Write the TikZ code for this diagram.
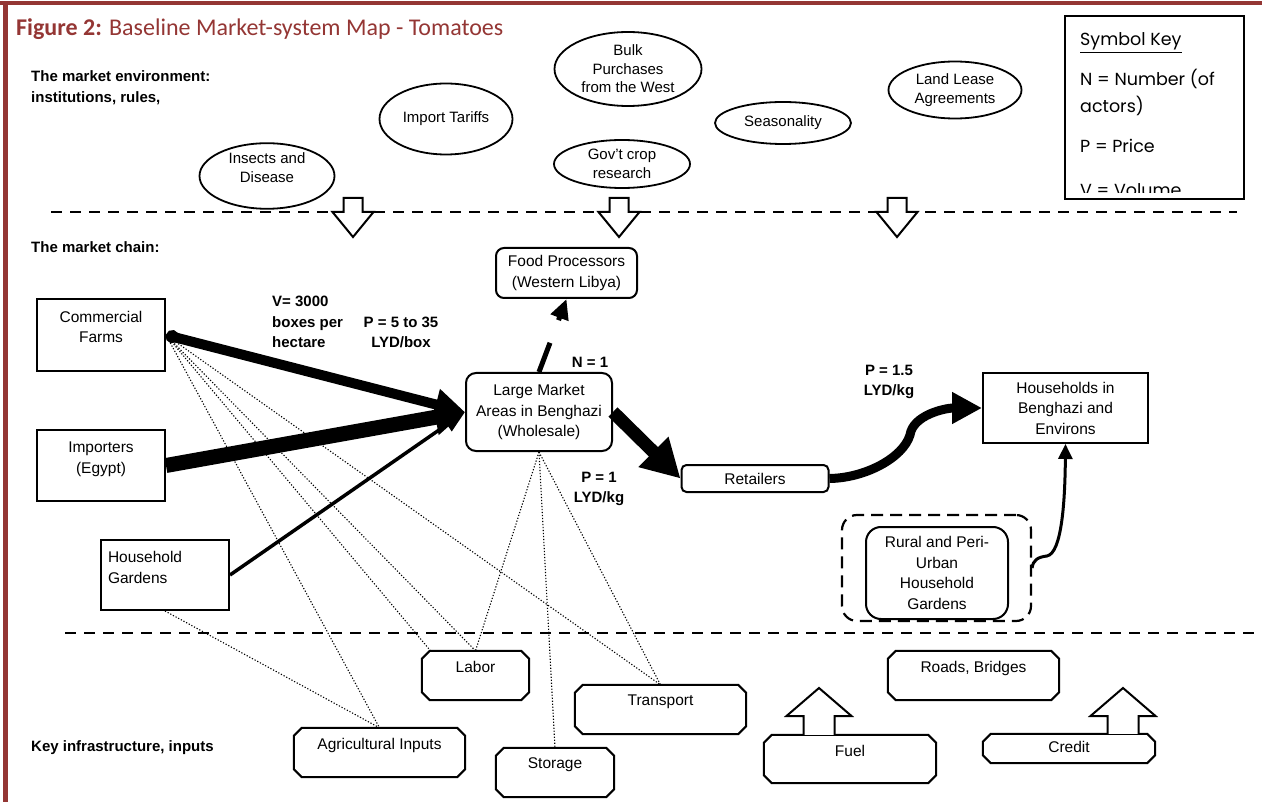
\documentclass[tikz,border=0pt]{standalone}
\usepackage{fontspec}
\setmainfont{Liberation Sans}
\newfontfamily\titlefont{Carlito}
\newfontfamily\keyfont{Poppins}
\usetikzlibrary{arrows.meta,shapes.geometric,calc,backgrounds}
\definecolor{figred}{HTML}{943634}

\tikzset{
  chainbox/.style={draw, line width=2pt, fill=white, inner sep=0pt, align=center,
    font=\fontsize{15.5}{20.5}\selectfont},
  roundbox/.style={chainbox, rounded corners=9pt},
  envnode/.style={draw, ellipse, line width=1.8pt, fill=white, inner sep=0pt, align=center,
    font=\fontsize{15}{18.5}\selectfont},
  inbox/.style={rectangle, inner sep=0pt, text height=21.5pt, text depth=27.5pt,
    font=\fontsize{15.5}{20}\selectfont},
  chamfer/.style={line width=2pt, fill=white, line join=miter},
  lbl/.style={font=\bfseries\fontsize{15}{20.5}\selectfont, align=center, inner sep=0pt},
  keytxt/.style={font=\keyfont\fontsize{17.5}{27}\selectfont, inner sep=0pt, anchor=base west},
  infolink/.style={line width=1.1pt, dash pattern=on 1.2pt off 1.8pt},
  sepline/.style={line width=2.5pt, dash pattern=on 11pt off 8pt},
  hollow/.style={draw, line width=2pt, fill=white, line join=miter},
}

\begin{document}
\begin{tikzpicture}[x=1pt, y=-1pt]
\useasboundingbox (0,0) rectangle (1262,802);

% frame and title
\draw[figred, line width=4pt] (0,3) -- (1262,3);
\draw[figred, line width=5pt] (5,3) -- (5,802);
\node[anchor=base west, inner sep=0pt, text=figred, font=\titlefont\fontsize{24}{28}\selectfont]
  (title) at (16,36) {\textbf{Figure 2:} Baseline Market-system Map - Tomatoes};

% market environment
\node[lbl, align=left, anchor=west] (envlbl) at (31,87.5) {The market environment:\\institutions, rules,};
\node[envnode, minimum width=135pt, minimum height=59pt, text depth=17pt] (ins) at (267,176) {Insects and\\Disease};
\node[envnode, minimum width=133pt, minimum height=71pt] (tar) at (446,119) {Import Tariffs};
\node[envnode, minimum width=147pt, minimum height=74pt] (bulk) at (628,69) {Bulk\\Purchases\\from the West};
\node[envnode, minimum width=136pt, minimum height=48pt] (gov) at (622,164) {Gov’t crop\\research};
\node[envnode, minimum width=136pt, minimum height=42pt] (sea) at (783,123) {Seasonality};
\node[envnode, minimum width=133pt, minimum height=57pt] (land) at (955,90) {Land Lease\\Agreements};

% symbol key
\node[draw, line width=2pt, minimum width=179pt, minimum height=183pt, inner sep=0pt] (key) at (1154.5,107.5) {};
\node[keytxt] (keyhd) at (1080,46) {\underline{Symbol Key}};
\begin{scope}
  \clip (1066,17) rectangle (1243,193);
  \foreach \t/\y [count=\i] in {{N = Number (of}/86, actors)/113, P = Price/153, V = Volume/197}
    \node[keytxt] (keyline\i) at (1080,\y) {\t};
\end{scope}

% separators
\draw[sepline] (51,212) -- (1237,212);
\draw[sepline] (65,633) -- (1262,633);
\foreach \c in {353,619,897}
  \draw[hollow] (\c-9.5,198) -- (\c+9.5,198) -- (\c+9.5,212) -- (\c+20.5,212) -- (\c,237)
    -- (\c-20.5,212) -- (\c-9.5,212) -- cycle;

% market chain
\node[lbl, anchor=west] (chnlbl) at (31,247) {The market chain:};
\node[chainbox, minimum width=128pt, text height=44pt, text depth=28pt]
  (com) at (101,335) {Commercial\\Farms};
\node[chainbox, minimum width=128pt, text height=43pt, text depth=28pt]
  (imp) at (101,465.5) {Importers\\(Egypt)};
\node[chainbox, align=left, text width=114pt, inner xsep=7pt, text height=22.5pt, text depth=47.5pt]
  (hg) at (165,575) {Household\\Gardens};
\node[roundbox, rounded corners=10pt, minimum width=146pt, minimum height=78pt]
  (lm) at (539,412) {Large Market\\Areas in Benghazi\\(Wholesale)};
\node[roundbox, rounded corners=8pt, minimum width=141pt, minimum height=50pt]
  (fp) at (566.5,273) {Food Processors\\(Western Libya)};
\node[roundbox, rounded corners=5pt, minimum width=147pt, minimum height=27pt]
  (ret) at (755,478.5) {Retailers};
\node[chainbox, minimum width=165pt, minimum height=70pt]
  (hh) at (1065.5,408) {Households in\\Benghazi and\\Environs};
\node[draw, line width=2.2pt, dash pattern=on 12pt off 7pt, rounded corners=15pt,
  minimum width=189pt, minimum height=106pt] (ruro) at (936.5,568) {};
\node[roundbox, rounded corners=15pt, minimum width=142pt, minimum height=92pt]
  (rur) at (937,573) {Rural and Peri-\\Urban\\Household\\Gardens};

\node[lbl, align=left, anchor=west] (vol) at (272,322) {V= 3000\\boxes per\\hectare};
\node[lbl] (pfarm) at (401,332.5) {P = 5 to 35\\LYD/box};
\node[lbl] (nlm) at (590,362) {N = 1};
\node[lbl] (pwh) at (599,489) {P = 1\\LYD/kg};
\node[lbl] (pret) at (889,382) {P = 1.5\\LYD/kg};

% infrastructure and inputs
\node[lbl, anchor=west] (inflbl) at (31,748) {Key infrastructure, inputs};
\node[inbox, minimum width=107pt] (lab) at (475.5,675.5) {Labor};
\node[inbox, minimum width=171pt] (agin) at (379.5,752.5) {Agricultural Inputs};
\node[inbox, minimum width=118pt, text height=20.5pt, text depth=28.5pt] (sto) at (555,772.5) {Storage};
\node[inbox, minimum width=171pt, text height=20.5pt, text depth=28.5pt] (trn) at (660.5,709.5) {Transport};
\node[inbox, minimum width=172pt, text depth=26.5pt] (fuel) at (850,759) {Fuel};
\node[inbox, minimum width=171pt] (road) at (973.5,675.5) {Roads, Bridges};
\node[inbox, minimum width=172pt, text height=18.5pt, text depth=10.5pt] (cred) at (1069,748.5) {Credit};
\begin{pgfonlayer}{background}
  \foreach \n in {lab,agin,sto,trn,fuel,road,cred}
    \draw[chamfer] ($(\n.north west)+(8,0)$) -- ($(\n.north east)+(-8,0)$) -- ($(\n.north east)+(0,8)$)
      -- ($(\n.south east)+(0,-8)$) -- ($(\n.south east)+(-8,0)$) -- ($(\n.south west)+(8,0)$)
      -- ($(\n.south west)+(0,-8)$) -- ($(\n.north west)+(0,8)$) -- cycle;
\end{pgfonlayer}
\foreach \c/\n in {819/fuel,1123/cred}
  \draw[hollow] (\c-15.5,0 |- \n.north) -- (\c-15.5,716) -- (\c-32.5,716) -- (\c,688)
    -- (\c+32.5,716) -- (\c+15.5,716) -- (\c+15.5,0 |- \n.north);

% links to inputs
\draw[infolink] (com.east) -- (agin.north);
\draw[infolink] (com.east) -- ($(lab.north)+(-45,0)$);
\draw[infolink] (com.east) -- (lab.north);
\draw[infolink] (com.east) -- (trn.north);
\draw[infolink] (hg.south) -- (agin.north);
\draw[infolink] (lm.south) -- (lab.north);
\draw[infolink] (lm.south) -- (sto.north);
\draw[infolink] (lm.south) -- (trn.north);

% flows
\draw[line width=10pt, {Circle[length=13pt]}-{Triangle[length=30pt,width=30pt]}] (com.east) -- (lm.west);
\draw[line width=15pt, -{Triangle[length=30pt,width=34pt]}] (imp.east) -- (lm.west);
\draw[line width=3.5pt, -{Triangle[length=22pt,width=16pt]}] (hg.east) -- (lm.west);
\draw[line width=13pt, -{Triangle[length=38pt,width=40pt]}] (lm.east) -- (ret.west);
\draw[line width=5pt] (lm.north) -- ($(lm.north)!0.4!(fp.south)$);
\draw[line width=5pt, -{Triangle[length=20pt,width=18pt]}] ($(lm.north)!0.71!(fp.south)$) -- (fp.south);
\draw[line width=9pt, -{Triangle[length=30pt,width=30pt]}] (ret.east)
  .. controls (865,478) and (903,458) .. (910,435)
  .. controls (913,415) and (945,408) .. (hh.west);
\draw[line width=3pt, -{Triangle[length=15pt,width=14pt]}] (ruro.east)
  .. controls (1033,560) and (1038,557) .. (1047,556)
  .. controls (1062,553) and (1065,500) .. (hh.south);
\end{tikzpicture}
\end{document}
